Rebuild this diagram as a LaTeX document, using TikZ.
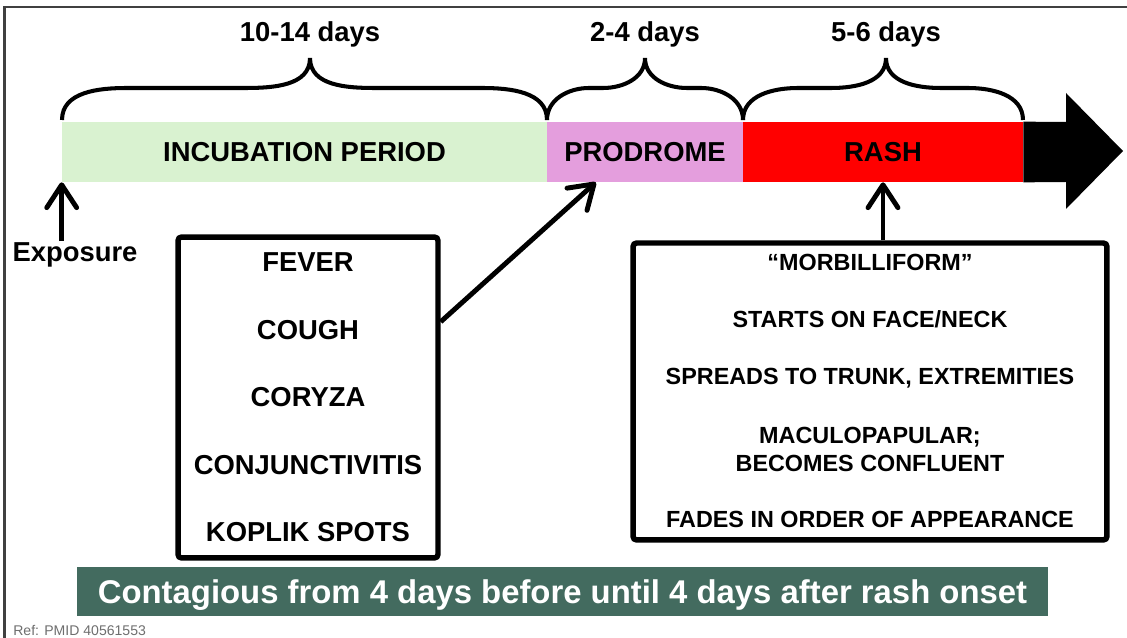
\documentclass[tikz,border=0pt]{standalone}
\usepackage{fontspec}
\setmainfont{Liberation Sans}
\usetikzlibrary{arrows.meta, calc}
\definecolor{incubgreen}{HTML}{D9F2D0}
\definecolor{prodpink}{HTML}{E49EDD}
\definecolor{rashred}{HTML}{FF0000}
\definecolor{bannergreen}{HTML}{436B5F}
\definecolor{framegray}{HTML}{404040}
\definecolor{refgray}{HTML}{6E6E6E}
\tikzset{
    phase/.style={minimum height=1.2cm, inner sep=0pt,
        font=\fontsize{15.6}{18}\selectfont\bfseries},
    listbox/.style={draw, line width=3.1pt, rounded corners=2pt, inner sep=0pt},
    pointer/.style={line width=2.8pt,
        -{Straight Barb[length=13pt, width=17pt, round]}},
    bracket/.style={line width=2.3pt},
    bigtext/.style={inner sep=1pt, font=\fontsize{15.6}{18}\selectfont\bfseries},
    smalltext/.style={inner sep=1pt, font=\fontsize{13.3}{16}\selectfont\bfseries}
}

\begin{document}
\begin{tikzpicture}[x=0.02cm, y=-0.02cm]
	\useasboundingbox (0,0) rectangle (1127,638);
	\draw[framegray, line width=1.4pt] (4.7,7) rectangle (1145,660);

	% timeline bar
	\node[phase, fill=incubgreen, minimum width=9.7cm] (incub) at (304.5,152) {INCUBATION PERIOD};
	\node[phase, fill=prodpink, minimum width=3.92cm] (prodrome) at (645,152) {PRODROME};
	\node[phase, fill=rashred, minimum width=5.6cm] (rash) at (883,152) {RASH};
	\fill (rash.north east) -- (1066,122) -- (1066,93) -- (1123,151)
		-- (1066,209) -- (1066,182) -- (rash.south east) -- cycle;

	% braces and durations
	\foreach \a/\m/\b/\w in {62/310/547/65, 547/645/743/42, 743/886/1023/55}
		\draw[bracket] (\a,120) to[out=90,in=180] (\a+\w,88) -- (\m-\w,88)
			to[out=0,in=-90] (\m,58) to[out=-90,in=180] (\m+\w,88)
			-- (\b-\w,88) to[out=0,in=90] (\b,120);
	\node[bigtext, anchor=base] (dur1) at (310,42) {10-14 days};
	\node[bigtext, anchor=base] (dur2) at (645,42) {2-4 days};
	\node[bigtext, anchor=base] (dur3) at (886,42) {5-6 days};

	% exposure
	\node[bigtext, anchor=base] (expo) at (75,262) {Exposure};
	\draw[pointer] (incub.south west |- expo.north) -- (incub.south west);

	% prodrome signs
	\node[listbox, minimum width=5.2cm, minimum height=6.42cm] (signs) at (308,397.5) {};
	\foreach \y/\t [count=\i] in {272/FEVER, 339.5/COUGH, 407/CORYZA,
			474.5/CONJUNCTIVITIS, 542/KOPLIK SPOTS}
		\node[bigtext, anchor=base] (sign\i) at (308,\y) {\t};
	\draw[pointer] ($(signs.north east)!0.268!(signs.south east)$)
		-- ($(prodrome.south west)!0.25!(prodrome.south east)$);

	% rash features
	\node[listbox, minimum width=9.48cm, minimum height=5.94cm] (rashbox) at (870,391.5) {};
	\foreach \y/\t [count=\i] in {270.5/“MORBILLIFORM”, 327.5/{STARTS ON FACE/NECK},
			384.5/{SPREADS TO TRUNK, EXTREMITIES}, 443.5/MACULOPAPULAR;,
			471.5/BECOMES CONFLUENT, 527.5/FADES IN ORDER OF APPEARANCE}
		\node[smalltext, anchor=base] (feat\i) at (870,\y) {\t};
	\draw[pointer] (rash.south |- rashbox.north) -- (rash.south);

	% contagious period
	\node[fill=bannergreen, minimum width=19.42cm, minimum height=0.98cm, inner sep=0pt]
		(banner) at (562.5,591.5) {};
	\node[text=white, anchor=base, inner sep=0pt, font=\fontsize{18.7}{21}\selectfont\bfseries]
		(bannertext) at (562.5,604) {Contagious from 4 days before until 4 days after rash onset};

	\node[anchor=base west, inner sep=0pt, text=refgray, font=\fontsize{8}{9}\selectfont]
		(ref) at (13,636) {Ref: PMID 40561553};
\end{tikzpicture}
\end{document}
